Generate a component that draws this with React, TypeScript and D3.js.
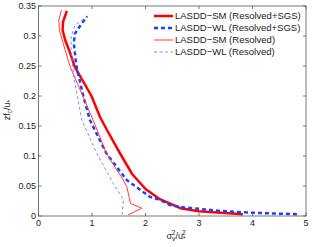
import React from "react";
import * as d3 from "d3";

const smTotalX = [3.82, 3.0, 2.65, 2.27, 2.0, 1.75, 1.52, 1.3, 1.15, 0.99, 0.83, 0.68, 0.59, 0.5, 0.45, 0.46, 0.53];
const smTotalY = [0.003, 0.008, 0.013, 0.028, 0.045, 0.07, 0.105, 0.14, 0.165, 0.2, 0.225, 0.248, 0.272, 0.293, 0.31, 0.324, 0.342];

const wlTotalX = [4.83, 3.95, 3.33, 2.71, 2.46, 2.27, 2.08, 1.65, 1.27, 0.96, 0.84, 0.71, 0.66, 0.68, 0.81, 0.91];
const wlTotalY = [0.003, 0.0055, 0.009, 0.0145, 0.018, 0.027, 0.032, 0.06, 0.104, 0.16, 0.199, 0.249, 0.288, 0.304, 0.321, 0.333];

const smResX = [1.68, 1.93, 1.72, 1.65, 1.55, 1.46, 1.37, 1.27, 1.02, 0.78, 0.59, 0.46, 0.39, 0.38, 0.43];
const smResY = [0.002, 0.013, 0.021, 0.049, 0.065, 0.077, 0.09, 0.104, 0.16, 0.21, 0.249, 0.288, 0.31, 0.327, 0.343];

const wlResX = [1.56, 1.59, 1.4, 1.09, 0.81, 0.74, 0.66, 0.61, 0.61, 0.68, 0.87];
const wlResY = [0.002, 0.027, 0.054, 0.104, 0.16, 0.193, 0.232, 0.277, 0.299, 0.318, 0.33];

const xTicks = [0, 1, 2, 3, 4, 5];
const yTicks = [0, 0.05, 0.1, 0.15, 0.2, 0.25, 0.3, 0.35];
const legendLabels = [
  "LASDD\u2212SM (Resolved+SGS)",
  "LASDD\u2212WL (Resolved+SGS)",
  "LASDD\u2212SM (Resolved)",
  "LASDD\u2212WL (Resolved)",
];

const W = 312, H = 247;
const L = 38.5, R = 306, T = 6, B = 216;

export default function App() {
  const x = d3.scaleLinear().domain([0, 5]).range([L, R]);
  const y = d3.scaleLinear().domain([0, 0.35]).range([B, T]);
  const line = d3.line<[number, number]>().x(d => x(d[0])).y(d => y(d[1]));
  const mk = (xs: number[], ys: number[]) => line(xs.map((v, i) => [v, ys[i]] as [number, number])) || "";

  const series = [
    { d: mk(smTotalX, smTotalY), color: "#ff0000", w: 2.5, dash: "none" },
    { d: mk(wlTotalX, wlTotalY), color: "#1f3fff", w: 2.5, dash: "4,3" },
    { d: mk(smResX, smResY), color: "#ff3a3a", w: 1, dash: "none" },
    { d: mk(wlResX, wlResY), color: "#6f7fff", w: 0.9, dash: "3,2.5" },
  ];
  const font = "Liberation Sans, Arial, sans-serif";
  const tl = 3;

  return (
    <svg width={W} height={H} style={{ position: "absolute", left: 0, top: 0, background: "#fff" }} fontFamily={font}>
      <rect x={0} y={0} width={W} height={H} fill="#fff" />
      <defs>
        <clipPath id="clip"><rect x={L} y={T} width={R - L} height={B - T} /></clipPath>
      </defs>
      <g clipPath="url(#clip)">
        {series.map((s, i) => (
          <path key={i} d={s.d} fill="none" stroke={s.color} strokeWidth={s.w} strokeDasharray={s.dash} strokeLinejoin="round" />
        ))}
      </g>
      <rect x={L} y={T} width={R - L} height={B - T} fill="none" stroke="#555" strokeWidth={0.8} />
      {xTicks.map(t => (
        <g key={"x" + t}>
          <line x1={x(t)} x2={x(t)} y1={B} y2={B - tl} stroke="#555" strokeWidth={0.8} />
          <line x1={x(t)} x2={x(t)} y1={T} y2={T + tl} stroke="#555" strokeWidth={0.8} />
          <text x={x(t)} y={226} fontSize={9} textAnchor="middle" fill="#222">{t}</text>
        </g>
      ))}
      {yTicks.map(t => (
        <g key={"y" + t}>
          <line x1={L} x2={L + tl} y1={y(t)} y2={y(t)} stroke="#555" strokeWidth={0.8} />
          <line x1={R} x2={R - tl} y1={y(t)} y2={y(t)} stroke="#555" strokeWidth={0.8} />
          <text x={36} y={y(t) + 3.2} fontSize={9} textAnchor="end" fill="#222">{t === 0 ? "0" : String(t)}</text>
        </g>
      ))}
      <text x={176} y={239} fontSize={9} textAnchor="middle" fill="#222">
        {"\u03c3"}
        <tspan fontSize={6.5} dy={2}>v</tspan>
        <tspan fontSize={6.5} dy={-6} dx={-3.5}>2</tspan>
        <tspan dy={4}>/u</tspan>
        <tspan fontSize={6.5} dy={2}>*</tspan>
        <tspan fontSize={6.5} dy={-6} dx={-3.5}>2</tspan>
      </text>
      <text transform={`translate(10,110) rotate(-90)`} fontSize={9} textAnchor="middle" fill="#222">
        zf<tspan fontSize={6.5} dy={2}>c</tspan><tspan dy={-2}>/u</tspan><tspan fontSize={6.5} dy={2}>*</tspan>
      </text>
      {legendLabels.map((lab, i) => {
        const s = series[i];
        const ly = 16 + i * 12;
        return (
          <g key={lab}>
            <line x1={154} x2={173} y1={ly} y2={ly} stroke={s.color} strokeWidth={s.w} strokeDasharray={s.dash} />
            <text x={175} y={ly + 3.3} fontSize={9.5} fill="#222">{lab}</text>
          </g>
        );
      })}
    </svg>
  );
}
